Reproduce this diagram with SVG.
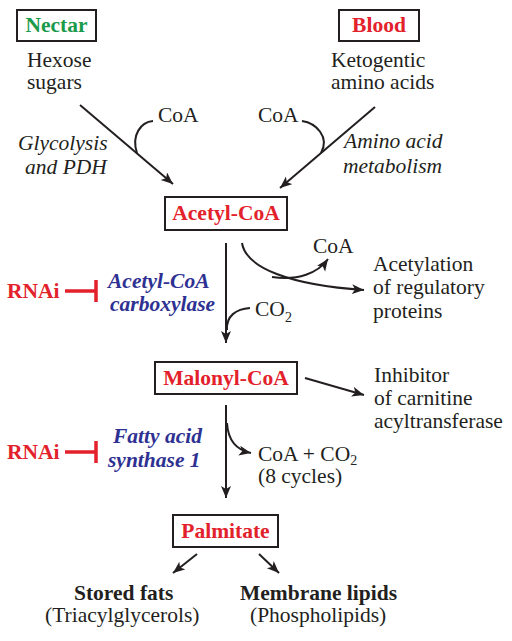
<svg xmlns="http://www.w3.org/2000/svg" width="512" height="641" viewBox="0 0 512 641">
<style>
text{font-family:'Liberation Serif','Times New Roman',serif;font-size:21.5px;fill:#231f20}
.b{font-weight:bold}
.i{font-style:italic}
.red{fill:#e3212b;font-weight:bold}
.grn{fill:#1a9a4b;font-weight:bold}
.blu{fill:#2e3192;font-weight:bold;font-style:italic}
.box{fill:#fff;stroke:#231f20;stroke-width:2}
.ln{fill:none;stroke:#231f20;stroke-width:2}
.arr{fill:none;stroke:#231f20;stroke-width:2;marker-end:url(#ah)}
.inh{fill:none;stroke:#e3212b;stroke-width:3.5}
.sub{font-size:14px}
</style>
<defs>
<marker id="ah" markerUnits="userSpaceOnUse" markerWidth="14" markerHeight="12" refX="12" refY="5" orient="auto">
<path d="M0,0 L12,5 L0,10 L3,5 z" fill="#231f20"/>
</marker>
</defs>
<g id="nectar"><rect class="box" x="17" y="10" width="79" height="31"/><text class="grn" x="56.5" y="32" text-anchor="middle">Nectar</text></g>
<g id="blood"><rect class="box" x="339" y="10" width="80" height="31"/><text class="red" x="379" y="32" text-anchor="middle">Blood</text></g>
<g id="hexose"><text x="27" y="67">Hexose</text><text x="27" y="89">sugars</text></g>
<g id="keto"><text x="331" y="67">Ketogentic</text><text x="331" y="89">amino acids</text></g>
<g id="coa-left"><text x="158" y="122">CoA</text></g>
<g id="coa-right"><text x="258" y="122">CoA</text></g>
<g id="glycolysis"><text class="i" x="18" y="150">Glycolysis</text><text class="i" x="25" y="174">and PDH</text></g>
<g id="aametab"><text class="i" x="344" y="148">Amino acid</text><text class="i" x="343" y="173">metabolism</text></g>

<g id="acetylcoa"><rect class="box" x="165" y="197" width="122" height="33"/><text class="red" x="226" y="220" text-anchor="middle">Acetyl-CoA</text></g>
<g id="coa-top"><text x="313" y="253">CoA</text></g>
<g id="acetylation"><text x="373" y="271">Acetylation</text><text x="373" y="294">of regulatory</text><text x="373" y="318">proteins</text></g>
<g id="rnai1"><text class="red" x="7" y="298">RNAi</text><path class="inh" d="M65,291 H96 M96,280 V302"/></g>
<g id="acc"><text class="blu" x="108" y="288">Acetyl-CoA</text><text class="blu" x="110" y="311">carboxylase</text></g>
<g id="co2a"><text x="255" y="316">CO<tspan class="sub" dy="6">2</tspan></text></g>

<g id="malonylcoa"><rect class="box" x="155" y="362" width="142" height="32"/><text class="red" x="226" y="385" text-anchor="middle">Malonyl-CoA</text></g>
<g id="inhibitor"><text x="374" y="382">Inhibitor</text><text x="374" y="405">of carnitine</text><text x="374" y="428">acyltransferase</text></g>
<g id="rnai2"><text class="red" x="7" y="459">RNAi</text><path class="inh" d="M65,452 H96 M96,441 V463"/></g>
<g id="fas"><text class="blu" x="113" y="443">Fatty acid</text><text class="blu" x="108" y="467">synthase 1</text></g>
<g id="coaco2"><text x="258" y="461">CoA + CO<tspan class="sub" dy="4">2</tspan></text><text x="258" y="483">(8 cycles)</text></g>

<g id="palmitate"><rect class="box" x="173" y="515" width="105" height="32"/><text class="red" x="225.5" y="538" text-anchor="middle">Palmitate</text></g>
<g id="stored"><text class="b" x="74" y="600">Stored fats</text><text x="45" y="622">(Triacylglycerols)</text></g>
<g id="membrane"><text class="b" x="240" y="600">Membrane lipids</text><text x="250" y="622">(Phospholipids)</text></g>

<g id="connectors">
<path class="arr" d="M80,105 L173,184"/>
<path class="ln" d="M153,121 C141,122 131,135 137,153"/>
<path class="arr" d="M375,107 L280,188"/>
<path class="ln" d="M302,121 C316,123 330,137 321,153"/>
<path class="arr" d="M226,243 V343"/>
<path class="arr" d="M242,243 C246,268 290,285 364,290"/>
<path class="arr" d="M272,277 C298,281 318,273 328,259"/>
<path class="ln" d="M250,308 C236,309 226,316 227,330"/>
<path class="arr" d="M305,378 L364,395"/>
<path class="arr" d="M226,405 V498"/>
<path class="arr" d="M227,423 C228,440 236,450 251,453"/>
<path class="arr" d="M197,554 L173,573"/>
<path class="arr" d="M259,554 L279,573"/>
</g>
</svg>
